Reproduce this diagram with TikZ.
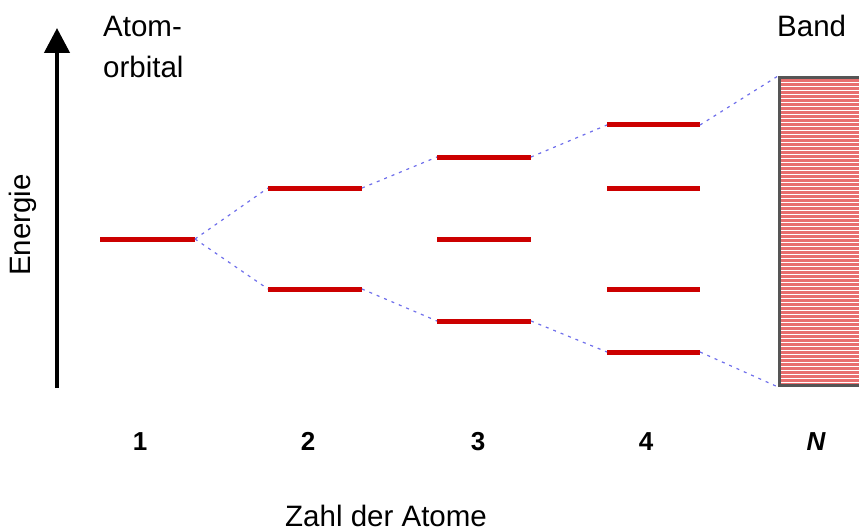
\documentclass[tikz,border=0pt]{standalone}
\usepackage{fontspec}
\setmainfont{Liberation Sans}
\usetikzlibrary{arrows.meta}
\definecolor{levelred}{RGB}{204,0,0}
\definecolor{splitblue}{RGB}{110,110,235}
\definecolor{bandred}{RGB}{232,110,110}
\definecolor{bandframe}{RGB}{85,85,85}
\begin{document}
\begin{tikzpicture}[x=1pt,y=-1pt,
  orbline/.style={levelred, line width=5pt},
  splitline/.style={splitblue, line width=1.2pt, dash pattern=on 3pt off 5pt},
  txt/.style={font=\fontsize{29.5}{35}\selectfont, inner sep=0pt, anchor=base west},
  numlbl/.style={font=\fontsize{26}{30}\selectfont\bfseries, inner sep=0pt, anchor=base}]
\useasboundingbox (0,0) rectangle (859,532);
\clip (0,0) rectangle (859,532);

% energy axis
\coordinate (ebot) at (57,388);
\coordinate (etop) at (57,28);
\draw[line width=4.5pt, -{Triangle[length=25pt,width=25pt]}] (ebot) -- (etop);
\node[rotate=90, font=\fontsize{29.5}{35}\selectfont, inner sep=0pt] (energy) at (23,225) {Energie};

\node[txt] (ao1) at (103,37) {Atom-};
\node[txt] (ao2) at (103,78) {orbital};
\node[txt] (bandlbl) at (777,37) {Band};

% energy levels for 1 to 4 atoms
\foreach \name/\xa/\xb/\y in {
    l1/100/195/239,
    l2a/268/362/188, l2b/268/362/289,
    l3a/437/531/157, l3b/437/531/239, l3c/437/531/321,
    l4a/607/700/125, l4b/607/700/188, l4c/607/700/289, l4d/607/700/352} {
  \coordinate (\name-w) at (\xa,\y);
  \coordinate (\name-e) at (\xb,\y);
  \draw[orbline] (\name-w) -- (\name-e);
}

% band of N atoms
\node[draw=bandframe, line width=3pt, anchor=north west, inner sep=0pt,
      minimum width=130pt, minimum height=308pt,
      path picture={
        \foreach \k in {0,...,78}
          \draw[bandred, line width=2.4pt]
            ([yshift=-\k*4pt-3pt]path picture bounding box.north west) -- ++(200pt,0);
      }] (band) at (778,76) {};

% splitting of the levels
\draw[splitline] (l1-e) -- (l2a-w);
\draw[splitline] (l1-e) -- (l2b-w);
\draw[splitline] (l2a-e) -- (l3a-w);
\draw[splitline] (l2b-e) -- (l3c-w);
\draw[splitline] (l3a-e) -- (l4a-w);
\draw[splitline] (l3c-e) -- (l4d-w);
\draw[splitline] (l4a-e) -- (band.north west);
\draw[splitline] (l4d-e) -- (band.south west);

% number of atoms
\node[numlbl] (n1) at (140,450) {1};
\node[numlbl] (n2) at (308,450) {2};
\node[numlbl] (n3) at (478,450) {3};
\node[numlbl] (n4) at (646,450) {4};
\node[numlbl, font=\fontsize{26}{30}\selectfont\bfseries\itshape] (nN) at (816,450) {N};
\node[txt] (xlabel) at (285,526) {Zahl der Atome};
\end{tikzpicture}
\end{document}
